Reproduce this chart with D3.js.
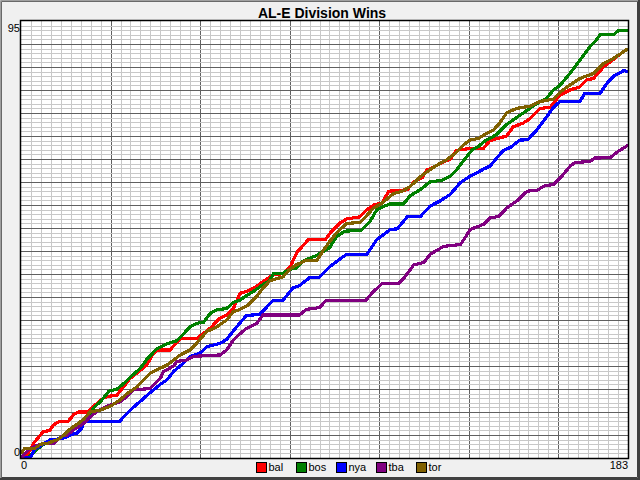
<!DOCTYPE html>
<html><head><meta charset="utf-8">
<script src="https://cdnjs.cloudflare.com/ajax/libs/d3/7.8.5/d3.min.js"></script>
<style>body{margin:0;background:#f0f0f0;overflow:hidden}svg{display:block}</style>
</head><body><svg id="c" width="640" height="480"></svg>
<script>
const chartTitle = "AL-E Division Wins";
const teams = ["bal","bos","nya","tba","tor"];
const teamColors = ["#ff0000","#008000","#0000ff","#800080","#806000"];
const xDomain = [0,183];
const yDomain = [0,95];
const xTickLabels = ["0","183"];
const yTickLabels = ["0","95"];

// [day, cumulative wins]
const balWins = [[0,0],[1,0],[3,2],[4,3.4],[6.7,5.7],[8.7,6],[9.8,7.2],[11.8,8],[14.3,8],[15.8,9.4],[17.3,10],[20.3,10],[21.8,11.2],[24.8,13],[26.3,13.4],[28.8,13.6],[32.9,17.3],[35.9,19],[37.9,20.2],[39.9,22.7],[41,23.5],[44.9,23.5],[46.9,25],[48,26],[53,26],[57,28.2],[60,30.4],[62,31.1],[64,32.5],[65,34],[66,35.8],[68,36.2],[71.2,37.4],[74.2,39],[76.2,39.8],[79.2,40.1],[81.2,41.6],[83.2,44.7],[86.7,47.5],[91.8,47.5],[93.3,49],[96,51],[98.3,52],[102,52.4],[103.8,53.7],[106.3,55],[109,55.5],[110.8,58],[116.4,58.3],[118.5,60],[121,61],[122.3,62.6],[124.3,63.2],[126.3,64],[129.4,65],[131.3,66.9],[134.4,67.2],[139.4,67.3],[141.4,69],[146.4,70],[148.4,72],[151.4,72.8],[153.5,73.8],[156.5,76],[159.5,76.2],[162.5,78.9],[165.5,80],[168.5,80.7],[170.5,82.2],[172.6,82.5],[175.6,85],[179.6,87.2],[181,88],[183,89]];
const bosWins = [[0,0],[2,0],[5,2],[8,3.6],[11,4],[13,5],[15,6.1],[18,7.5],[20,8.6],[22,11],[24,12.3],[26.5,14.5],[29,15],[31,16.2],[33,17.6],[36,19.5],[38,21.5],[41,23.8],[44,24.8],[47,25.5],[49,27],[51,28.5],[53,29.3],[55,29.5],[57,31.4],[59,32.2],[62,32.5],[64,33.8],[66,34.3],[68,35.3],[70,36.2],[73,37.7],[75,38.6],[76,40],[79,40.2],[81,41],[83,41.3],[85,42.8],[89,44],[93,45.7],[95,48],[97.5,49.3],[102.5,49.5],[105.3,51.5],[107.3,54],[111,55.2],[115.3,55.2],[117.3,57],[120.3,58.3],[123.3,60],[127,60.4],[129.3,61.2],[131.3,62.6],[133.3,64.5],[136,67],[138,67.8],[140,69],[143.4,70.3],[146.4,72.5],[149.4,74],[152.4,75.5],[155.4,77],[158.5,78.2],[160.5,80],[162.5,81],[165.5,83.6],[168.5,86.5],[171.5,89.4],[173.6,91],[174.6,92],[178.7,92],[180.2,93],[183,93]];
const nyaWins = [[0,0],[2.7,0],[4.2,1.9],[5.7,2.6],[8.7,3.9],[12.8,4.3],[14.8,5],[16.8,5.4],[18.3,6.4],[19,7.9],[29.8,8],[30.9,8.9],[32.9,10.4],[36.9,12.9],[38.9,14.2],[42,16],[44,17],[46,18.8],[49,20.6],[51,22.1],[54,22.8],[56,24.2],[60,24.9],[62,25.8],[65,28.5],[68,31],[72,31.2],[76,34.3],[79,34.3],[82,37],[84,37.5],[87,39.2],[90,39.3],[93.3,41.7],[97.2,43.8],[98.3,44.3],[104.3,44.3],[107.3,47.5],[111.4,49.7],[113.4,49.8],[116.4,52.4],[120.4,52.5],[123.4,54.8],[126.4,55.9],[129.4,57.3],[132.5,59.9],[135.5,61.3],[139.5,62.8],[141.5,63.5],[143.5,65.3],[145.5,66.9],[147.5,67.5],[150.4,69.1],[152.8,69.2],[155.5,71.3],[158.5,74.2],[160.5,76.2],[162.5,77.5],[168.5,77.5],[170,79.3],[174.6,79.3],[176.7,81.5],[178.7,83],[181.7,84.2],[183,84]];
const tbaWins = [[0,0],[2.4,1.9],[4,2.5],[6.7,3.2],[9.8,3.2],[12.8,5],[14,5],[15.8,6.1],[18.8,7.5],[20.8,8.9],[22.8,10.1],[25.8,11.2],[29.8,12.2],[31.9,13.3],[33.9,14.8],[38.9,15.1],[42,17.3],[43,18.8],[46,20],[47,21],[50,21.3],[52,22.1],[60,22.4],[62,23.5],[64,25.6],[66,27],[68,28.2],[71,29.2],[73,31.1],[84,31.1],[86,32.3],[90,32.7],[92,34.3],[104,34.3],[106,36],[109,38],[114,38],[116,39.6],[118.4,42],[121.4,42.5],[123.4,44.3],[127.4,46],[132.5,46.4],[135.5,49.7],[139.5,50.8],[141.5,52.2],[144,52.5],[146.5,54.4],[149.5,55.9],[152.6,58],[155.6,58.2],[157.6,59.1],[160.6,59.5],[163.1,61.3],[165.6,63.5],[167,64.2],[171.6,64.5],[173,65.2],[177.7,65.3],[179.7,66.5],[183,68]];
const torWins = [[0,1],[1,2],[4,2],[6,3],[8,3.2],[11,4],[13,5],[15,6.4],[17.3,7.5],[19,8.5],[20.8,10],[23.8,10.4],[26.8,11.2],[29.8,12.6],[32,14],[35,15.5],[37,17],[39,18.5],[42,19.5],[44,20.2],[46,21.3],[48,22.4],[51,23.5],[53,25],[56,27.5],[59,28.5],[62,30],[64,31.8],[66,32.3],[68,33],[71,35.1],[73,37],[75,38.5],[79,39.4],[81,41],[83,42],[86,43],[89.2,43],[91.2,45.2],[93,47],[95.2,49],[98.2,51],[102.2,51.2],[104,52.5],[106.2,54.3],[109,55.5],[112.3,57.5],[115,58],[117.3,59],[120.3,61.1],[122,62],[125,63.5],[128.3,64.8],[131,66.3],[133.3,68],[135.3,69.1],[138,69.5],[140.4,70.6],[142.4,71.3],[144,72.5],[146.4,75],[149.4,76],[153.5,76.5],[156.5,77.5],[160.5,78],[162.5,79.5],[165.5,81.1],[168.5,82.5],[172.6,83.6],[175.6,85.8],[178.7,86.9],[181,88],[183,89]];
const seriesValues = [balWins, bosWins, nyaWins, tbaWins, torWins];

const W = 640, H = 480;
const L = 21, R = 628, T = 21, B = 458;
const svg = d3.select("#c");
const font = "'Liberation Sans', Arial, sans-serif";

// window background + frame
svg.append("rect").attr("x",0).attr("y",0).attr("width",W).attr("height",H).attr("fill","#f0f0f0");
svg.append("path").attr("d",`M0.5,${H}V0.5H${W}`).attr("stroke","#a0a0a0").attr("fill","none");
svg.append("path").attr("d",`M1.5,${H-2}V1.5H${W-2}`).attr("stroke","#696969").attr("fill","none");
svg.append("path").attr("d",`M0,${H-1}H${W-1}V0`).attr("stroke","#404040").attr("stroke-width",2).attr("fill","none");
svg.append("path").attr("d",`M2,${H-2.5}H${W-2.5}V2`).attr("stroke","#404040").attr("stroke-width",1).attr("fill","none");

const x = d3.scaleLinear().domain(xDomain).range([L, R]);
const y = d3.scaleLinear().domain(yDomain).range([B, T]);
const px = v => Math.round(v) + 0.5;

// plot background
svg.append("rect").attr("x",L).attr("y",T).attr("width",R-L).attr("height",B-T).attr("fill","#ffffff");

const grid = svg.append("g").attr("shape-rendering","crispEdges");
function vGrid(vals, color){
  const g = grid.append("g").attr("transform",`translate(0,${B})`)
    .call(d3.axisBottom(x).tickValues(vals).tickSize(-(B-T)).tickSizeOuter(0).tickFormat(""));
  g.select(".domain").remove();
  g.selectAll(".tick text").remove();
  g.selectAll(".tick line").attr("stroke",color);
  g.selectAll(".tick").attr("transform", d => `translate(${px(x(d))},0)`);
}
function hGrid(vals, color){
  const g = grid.append("g").attr("transform",`translate(${L},0)`)
    .call(d3.axisLeft(y).tickValues(vals).tickSize(-(R-L)).tickSizeOuter(0).tickFormat(""));
  g.select(".domain").remove();
  g.selectAll(".tick text").remove();
  g.selectAll(".tick line").attr("stroke",color);
  g.selectAll(".tick").attr("transform", d => `translate(0,${px(y(d))})`);
}
vGrid(d3.range(3,183,3), "#c8c8c8");
vGrid(d3.range(27,183,27), "#606060");
hGrid(d3.range(1,95,1), "#c8c8c8");
hGrid(d3.range(5,95,5), "#606060");

// series
svg.append("clipPath").attr("id","clip").append("rect").attr("x",L).attr("y",T).attr("width",R-L).attr("height",B-T);
const line = d3.line().x(d=>x(d[0])).y(d=>y(d[1]));
const lines = svg.append("g").attr("clip-path","url(#clip)");
seriesValues.forEach((s,i)=>{
  lines.append("path").attr("d",line(s)).attr("fill","none")
    .attr("stroke",teamColors[i]).attr("stroke-width",3.2).attr("stroke-linejoin","miter")
    .attr("shape-rendering","crispEdges");
});

// plot frame
svg.append("rect").attr("x",L-0.5).attr("y",T-0.5).attr("width",R-L+1).attr("height",B-T+1)
  .attr("fill","none").attr("stroke","#000").attr("stroke-width",1.5);

// title
svg.append("text").attr("x",322).attr("y",18).attr("text-anchor","middle")
  .attr("font-family",font).attr("font-size",14).attr("font-weight","bold").text(chartTitle);

// axis labels
svg.append("text").attr("x",L-1).attr("y",y(yDomain[1])+11).attr("text-anchor","end")
  .attr("font-family",font).attr("font-size",11).text(yTickLabels[1]);
svg.append("text").attr("x",L-1).attr("y",y(yDomain[0])-2).attr("text-anchor","end")
  .attr("font-family",font).attr("font-size",11).text(yTickLabels[0]);
svg.append("text").attr("x",x(xDomain[0])).attr("y",B+11).attr("text-anchor","start")
  .attr("font-family",font).attr("font-size",11).text(xTickLabels[0]);
svg.append("text").attr("x",x(xDomain[1])).attr("y",B+11).attr("text-anchor","end")
  .attr("font-family",font).attr("font-size",11).text(xTickLabels[1]);

// legend
const leg = svg.append("g");
teams.forEach((t,i)=>{
  const gx = 256.5 + i*40;
  leg.append("rect").attr("x",gx).attr("y",462.5).attr("width",10).attr("height",10)
    .attr("fill",teamColors[i]).attr("stroke","#000").attr("stroke-width",1);
  leg.append("text").attr("x",gx+12).attr("y",471).attr("font-family",font).attr("font-size",11).text(t);
});
</script></body></html>
